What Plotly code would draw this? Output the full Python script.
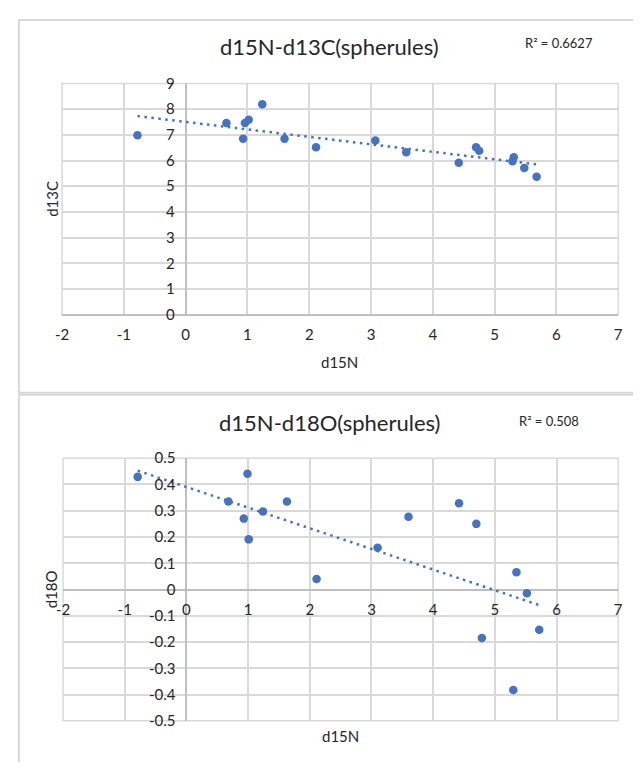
import numpy as np
import plotly.graph_objects as go

# ---------------- data ----------------
top_d15N = [-0.78, 0.66, 0.93, 0.96, 1.02, 1.24, 1.60, 2.11, 3.07, 3.57, 4.42, 4.70, 4.75, 5.29, 5.31, 5.48, 5.68]
top_d13C = [6.98, 7.46, 6.85, 7.46, 7.59, 8.19, 6.85, 6.52, 6.78, 6.32, 5.91, 6.52, 6.38, 5.97, 6.13, 5.71, 5.37]

bot_d15N = [-0.79, 0.68, 0.93, 0.99, 1.01, 1.24, 1.63, 2.11, 3.10, 3.60, 4.42, 4.70, 4.79, 5.30, 5.35, 5.52, 5.72]
bot_d18O = [0.429, 0.335, 0.270, 0.441, 0.191, 0.297, 0.335, 0.040, 0.159, 0.277, 0.329, 0.250, -0.185, -0.383, 0.066, -0.014, -0.153]

x_ticks = [-2, -1, 0, 1, 2, 3, 4, 5, 6, 7]
top_y_ticks = [0, 1, 2, 3, 4, 5, 6, 7, 8, 9]
bot_y_ticks = [-0.5, -0.4, -0.3, -0.2, -0.1, 0, 0.1, 0.2, 0.3, 0.4, 0.5]

top_title = "d15N-d13C(spherules)"
bot_title = "d15N-d18O(spherules)"
top_r2 = "R² = 0.6627"
bot_r2 = "R² = 0.508"
x_label = "d15N"
top_ylabel = "d13C"
bot_ylabel = "d18O"

# page is 641x770; the browser's default 8px body margin surrounds the figure
PAGE_W, PAGE_H, PAD = 641, 770, 8
W, H = PAGE_W - 2 * PAD, PAGE_H - 2 * PAD
BLUE = "#4472C4"
GRID = "#d9d9d9"
AXIS = "#bfbfbf"
TXT = "#262626"
FONT = "Lato"


def px(x):
    return (x - PAD) / W


def py(y):
    return 1 - (y - PAD) / H


def fmt(v):
    return "%g" % v


def trend(x, y):
    k, b = np.polyfit(x, y, 1)
    xs = np.array([min(x), max(x)])
    return xs, k * xs + b


fig = go.Figure()

fig.add_trace(go.Scatter(x=top_d15N, y=top_d13C, mode="markers",
                         marker=dict(color=BLUE, size=8.5), xaxis="x", yaxis="y",
                         showlegend=False, hoverinfo="skip"))
tx, ty = trend(top_d15N, top_d13C)
fig.add_trace(go.Scatter(x=tx, y=ty, mode="lines",
                         line=dict(color=BLUE, width=2.5, dash="2.5px,4.5px"),
                         xaxis="x", yaxis="y", showlegend=False, hoverinfo="skip"))

fig.add_trace(go.Scatter(x=bot_d15N, y=bot_d18O, mode="markers",
                         marker=dict(color=BLUE, size=8.5), xaxis="x2", yaxis="y2",
                         showlegend=False, hoverinfo="skip"))
bx, by = trend(bot_d15N, bot_d18O)
fig.add_trace(go.Scatter(x=bx, y=by, mode="lines",
                         line=dict(color=BLUE, width=2.5, dash="2.5px,4.5px"),
                         xaxis="x2", yaxis="y2", showlegend=False, hoverinfo="skip"))

tdx = [px(56), px(623)]
tdy = [py(312), py(75)]
bdx = [px(57), px(623)]
bdy = [py(728), py(459)]

tick_font = dict(family=FONT, size=15, color=TXT)
common = dict(showgrid=True, gridcolor=GRID, gridwidth=1.5, zeroline=True,
              zerolinecolor=AXIS, zerolinewidth=1.5, showline=False,
              ticks="", tickfont=tick_font, fixedrange=True, tickmode="array")

yzero_pos_top = tdx[0] + (0 - (-2)) / 9 * (tdx[1] - tdx[0])
yzero_pos_bot = bdx[0] + (0 - (-2)) / 9 * (bdx[1] - bdx[0])
xzero_pos_bot = bdy[0] + 0.5 * (bdy[1] - bdy[0])

fig.update_layout(
    width=W, height=H,
    margin=dict(l=0, r=0, t=0, b=0),
    paper_bgcolor="white", plot_bgcolor="white",
    font=dict(family=FONT, color=TXT),
    xaxis=dict(domain=tdx, range=[-2, 7], tickvals=x_ticks,
               ticktext=[fmt(v) for v in x_ticks], anchor="y",
               ticklabelstandoff=9, **common),
    yaxis=dict(domain=tdy, range=[0, 9], tickvals=top_y_ticks,
               ticktext=[fmt(v) for v in top_y_ticks], anchor="free",
               position=yzero_pos_top, ticklabelstandoff=11, **common),
    xaxis2=dict(domain=bdx, range=[-2, 7], tickvals=x_ticks,
                ticktext=[fmt(v) for v in x_ticks], anchor="free",
                position=xzero_pos_bot, ticklabelstandoff=9, **common),
    yaxis2=dict(domain=bdy, range=[-0.5, 0.5], tickvals=bot_y_ticks,
                ticktext=[fmt(v) for v in bot_y_ticks], anchor="free",
                position=yzero_pos_bot, ticklabelstandoff=11, **common),
)

shapes = [
    dict(type="rect", xref="paper", yref="paper", x0=px(12), x1=px(700),
         y0=py(392), y1=py(10), line=dict(color=GRID, width=2), layer="below"),
    dict(type="rect", xref="paper", yref="paper", x0=px(12), x1=px(700),
         y0=py(800), y1=py(394), line=dict(color=GRID, width=2), layer="below"),
    dict(type="rect", xref="paper", yref="paper", x0=tdx[0], x1=tdx[1],
         y0=tdy[0], y1=tdy[1], line=dict(color=GRID, width=1.5), layer="below"),
    dict(type="rect", xref="paper", yref="paper", x0=bdx[0], x1=bdx[1],
         y0=bdy[0], y1=bdy[1], line=dict(color=GRID, width=1.5), layer="below"),
]
fig.update_layout(shapes=shapes)


def note(text, x, y, size, angle=0):
    return dict(text=text, x=px(x), y=py(y), xref="paper", yref="paper",
                xanchor="center", yanchor="middle",
                textangle=angle, showarrow=False,
                font=dict(family=FONT, size=size, color=TXT))


ann = [
    note(top_title, 329, 37, 22),
    note(bot_title, 329, 422, 22),
    note(top_r2, 563, 34, 13),
    note(bot_r2, 552, 421, 13),
    note(x_label, 339, 360, 15),
    note(x_label, 340, 744, 15),
    note(top_ylabel, 45, 193, 15, -90),
    note(bot_ylabel, 45, 593, 15, -90),
]
fig.update_layout(annotations=ann)

fig.write_html("out.html", config={"displayModeBar": False})
